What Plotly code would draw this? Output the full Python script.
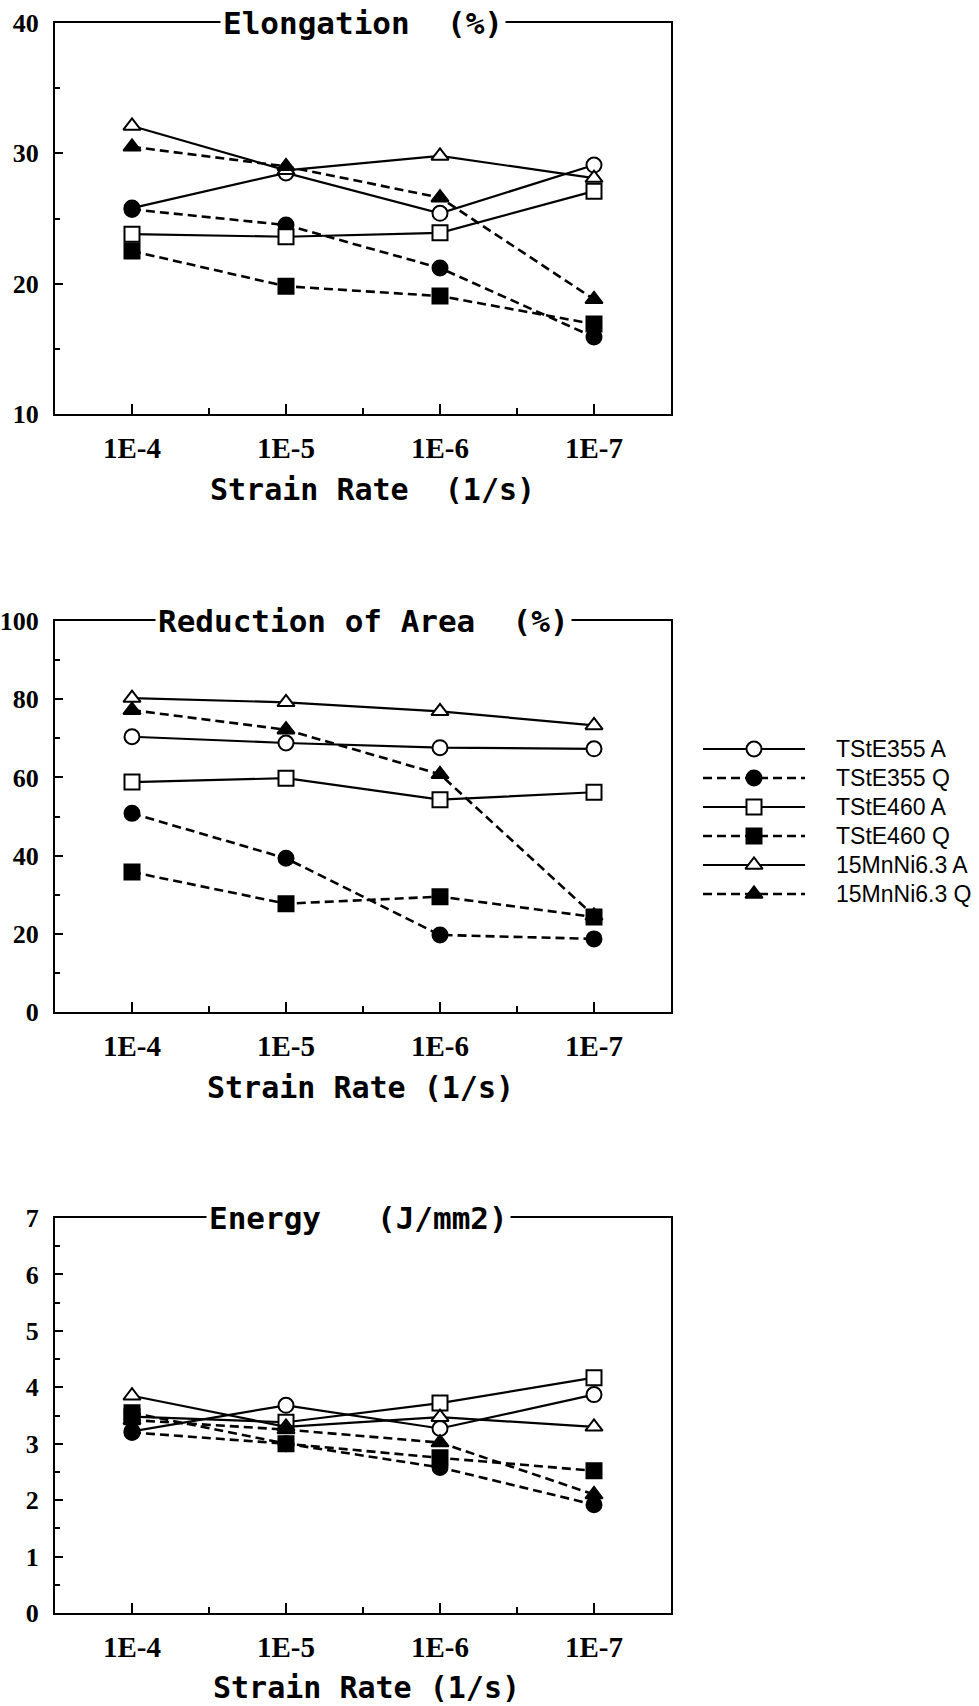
import plotly.graph_objects as go

W, H = 979, 1706

# ---------------- data ----------------
categories = ["1E-4", "1E-5", "1E-6", "1E-7"]
series_names = ["TStE355 A", "TStE355 Q", "TStE460 A", "TStE460 Q", "15MnNi6.3 A", "15MnNi6.3 Q"]

elong_355A = [25.8, 28.5, 25.4, 29.1]
elong_355Q = [25.7, 24.5, 21.2, 15.9]
elong_460A = [23.8, 23.6, 23.9, 27.1]
elong_460Q = [22.5, 19.8, 19.05, 16.9]
elong_MnA = [32.1, 28.7, 29.8, 28.1]
elong_MnQ = [30.5, 29.0, 26.6, 18.8]

roa_355A = [70.4, 68.8, 67.6, 67.3]
roa_355Q = [50.8, 39.3, 19.7, 18.7]
roa_460A = [58.8, 59.8, 54.3, 56.2]
roa_460Q = [35.8, 27.7, 29.5, 24.3]
roa_MnA = [80.3, 79.2, 76.9, 73.3]
roa_MnQ = [77.2, 72.2, 60.8, 24.6]

energy_355A = [3.22, 3.68, 3.27, 3.87]
energy_355Q = [3.20, 3.00, 2.58, 1.92]
energy_460A = [3.48, 3.38, 3.72, 4.17]
energy_460Q = [3.55, 3.00, 2.75, 2.52]
energy_MnA = [3.85, 3.30, 3.47, 3.30]
energy_MnQ = [3.42, 3.25, 3.02, 2.10]

panel_titles = ["Elongation  (%)", "Reduction of Area  (%)", "Energy   (J/mm2)"]
xaxis_titles = ["Strain Rate  (1/s)", "Strain Rate (1/s)", "Strain Rate (1/s)"]

# ---------------- styles ----------------
styles = [
    dict(symbol="circle", fill="white", dash="solid"),
    dict(symbol="circle", fill="black", dash="9px,5px"),
    dict(symbol="square", fill="white", dash="solid"),
    dict(symbol="square", fill="black", dash="9px,5px"),
    dict(symbol="triangle-up", fill="white", dash="solid"),
    dict(symbol="triangle-up", fill="black", dash="9px,5px"),
]

panels = [
    dict(data=[elong_355A, elong_355Q, elong_460A, elong_460Q, elong_MnA, elong_MnQ],
         top=23, bottom=414, yrange=[10, 40], dtick=10, minor=5, xt=76, xc=372, tc=363),
    dict(data=[roa_355A, roa_355Q, roa_460A, roa_460Q, roa_MnA, roa_MnQ],
         top=621, bottom=1012, yrange=[0, 100], dtick=20, minor=10, xt=75, xc=360, tc=363),
    dict(data=[energy_355A, energy_355Q, energy_460A, energy_460Q, energy_MnA, energy_MnQ],
         top=1218, bottom=1613, yrange=[0, 7], dtick=1, minor=0.5, xt=74, xc=366, tc=358),
]

PLOT_L, PLOT_R = 55, 671

def px(x):
    return x / W

def py(y):
    return 1 - y / H

fig = go.Figure()
layout = dict(
    width=W, height=H,
    margin=dict(l=0, r=0, t=0, b=0),
    paper_bgcolor="white", plot_bgcolor="white",
    showlegend=False,
    annotations=[],
)

xpos = list(range(len(categories)))
mono = "DejaVu Sans Mono"
serif = "Liberation Serif"

for k, p in enumerate(panels):
    n = "" if k == 0 else str(k + 1)
    xa, ya = "x" + n, "y" + n
    for i, vals in enumerate(p["data"]):
        st = styles[i]
        fig.add_trace(go.Scatter(
            x=xpos, y=vals, xaxis=xa, yaxis=ya, mode="lines+markers",
            name=series_names[i],
            line=dict(color="black", width=2.6 if st["fill"] == "black" else 2.2, dash=st["dash"]),
            marker=dict(symbol=st["symbol"], size=15, color=st["fill"],
                        line=dict(color="black", width=2)),
            cliponaxis=False,
        ))
    layout["xaxis" + n] = dict(
        domain=[px(PLOT_L), px(PLOT_R)], anchor=ya, range=[-0.5, 3.5],
        tickmode="array", tickvals=xpos, ticktext=categories,
        ticks="inside", ticklen=10, tickwidth=2, tickcolor="black",
        minor=dict(tickmode="array", tickvals=[0.5, 1.5, 2.5], ticks="inside",
                   ticklen=6, tickwidth=2, tickcolor="black"),
        showline=True, linewidth=2, linecolor="black", mirror=True,
        showgrid=False, zeroline=False, fixedrange=True,
        tickfont=dict(family=serif, size=29, color="black", weight="bold"),
        ticklabelstandoff=7, automargin=False,
    )
    layout["yaxis" + n] = dict(
        domain=[py(p["bottom"]), py(p["top"])], anchor=xa, range=p["yrange"],
        tickmode="linear", tick0=p["yrange"][0], dtick=p["dtick"],
        ticks="inside", ticklen=8, tickwidth=2, tickcolor="black",
        minor=dict(dtick=p["minor"], tick0=p["yrange"][0], ticks="inside",
                   ticklen=5, tickwidth=2, tickcolor="black"),
        showline=True, linewidth=2, linecolor="black", mirror=True,
        showgrid=False, zeroline=False, fixedrange=True,
        tickfont=dict(family=serif, size=26, color="black", weight="bold"),
        ticklabelstandoff=9, automargin=False,
    )
    # panel title sitting on the top frame line
    layout["annotations"].append(dict(
        text=panel_titles[k], xref="paper", yref="paper",
        x=px(p["tc"]), y=py(p["top"]), xanchor="center", yanchor="middle",
        showarrow=False, bgcolor="white", borderpad=2,
        font=dict(family=mono, size=31, color="black", weight="bold"),
    ))
    # x axis title
    layout["annotations"].append(dict(
        text=xaxis_titles[k], xref="paper", yref="paper",
        x=px(p["xc"]), y=py(p["bottom"] + p["xt"]),
        xanchor="center", yanchor="middle", showarrow=False,
        font=dict(family=mono, size=30, color="black", weight="bold"),
    ))

# ---------------- legend panel (drawn as its own small axes) ----------------
ROW0, ROWSTEP = 749, 29
nrow = len(series_names)
leg_top = ROW0 - ROWSTEP / 2
leg_bot = ROW0 + ROWSTEP * (nrow - 0.5)
for i, name in enumerate(series_names):
    st = styles[i]
    fig.add_trace(go.Scatter(
        x=[0, 1], y=[i, i], xaxis="x4", yaxis="y4", mode="lines",
        line=dict(color="black", width=2.6 if st["fill"] == "black" else 2.2, dash=st["dash"]),
        hoverinfo="skip",
    ))
    fig.add_trace(go.Scatter(
        x=[0.5], y=[i], xaxis="x4", yaxis="y4", mode="markers",
        marker=dict(symbol=st["symbol"], size=15, color=st["fill"],
                    line=dict(color="black", width=2)),
        cliponaxis=False, hoverinfo="skip",
    ))
    layout["annotations"].append(dict(
        text=name, xref="paper", yref="y4", x=px(834), y=i,
        xanchor="left", yanchor="middle", showarrow=False,
        font=dict(family="Liberation Sans", size=23, color="black"),
    ))

layout["xaxis4"] = dict(domain=[px(703), px(805)], anchor="y4", range=[0, 1],
                        visible=False, fixedrange=True)
layout["yaxis4"] = dict(domain=[py(leg_bot), py(leg_top)], anchor="x4",
                        range=[nrow - 0.5, -0.5], visible=False, fixedrange=True)

fig.update_layout(**layout)
fig.write_html("out.html", config={"displayModeBar": False},
               post_script="document.body.style.margin='0px';document.body.style.overflow='hidden';")
